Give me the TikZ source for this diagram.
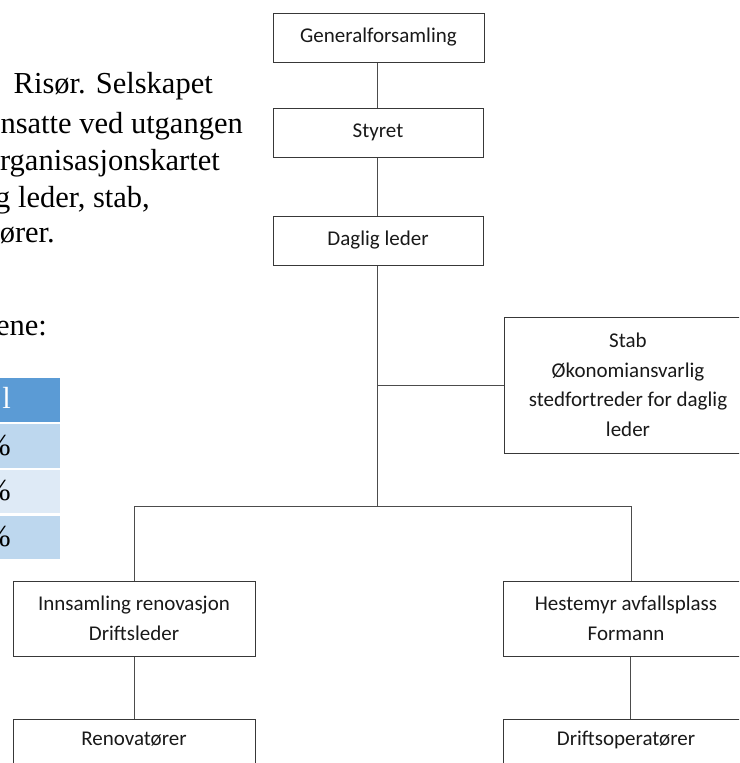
\documentclass[tikz,border=0pt]{standalone}
\usepackage{fontspec}
\setmainfont{Liberation Serif}
\newfontfamily\carlito{Carlito}
\usetikzlibrary{calc}
\definecolor{hdrblue}{HTML}{5B9BD5}
\definecolor{rowmid}{HTML}{BDD7EE}
\definecolor{rowlight}{HTML}{DEEAF6}
\tikzset{
  orgbox/.style={draw=black!78, line width=1pt, inner sep=0pt, align=center,
    font=\carlito\fontsize{21}{29.5}\selectfont, text=black!90},
  conn/.style={draw=black!70, line width=0.9pt},
  bodytext/.style={inner sep=0pt, font=\fontsize{30.5}{37}\selectfont, text=black},
}
\begin{document}
\begin{tikzpicture}[x=1pt,y=-1pt]
\useasboundingbox (0,0) rectangle (739,763);
\clip (0,0) rectangle (739,763);
% left background text (cut off, as in the reference)
\node[bodytext, anchor=base east] (t1) at (213,93) {Risør. Selskapet};
\node[bodytext, anchor=base east] (t2) at (243,133) {nsatte ved utgangen};
\node[bodytext, anchor=base east] (t3) at (220,170) {rganisasjonskartet};
\node[bodytext, anchor=base east] (t4) at (150,207) {g leder, stab,};
\node[bodytext, anchor=base east] (t5) at (55,242) {ører.};
\node[bodytext, anchor=base east] (t6) at (47,335) {ene:};
% table fragment
\fill[hdrblue] (-5,378) rectangle (60,422);
\fill[rowmid] (-5,424) rectangle (60,468);
\fill[rowlight] (-5,470) rectangle (60,513);
\fill[rowmid] (-5,516) rectangle (60,559);
\node[bodytext, anchor=base east, text=white] (c1) at (11,408) {l};
\node[bodytext, anchor=base east] (c2) at (11,455) {\%};
\node[bodytext, anchor=base east] (c3) at (11,500) {\%};
\node[bodytext, anchor=base east] (c4) at (11,546) {\%};
% org chart boxes
\node[orgbox, minimum width=211pt, minimum height=49pt] (gen) at (378.5,37.5) {Generalforsamling};
\node[orgbox, minimum width=210pt, minimum height=49pt] (sty) at (378,132.5) {Styret};
\node[orgbox, minimum width=210pt, minimum height=49pt] (dag) at (378,240.5) {Daglig leder};
\node[orgbox, minimum width=248pt, minimum height=136pt] (stab) at (628,385)
  {Stab\\Økonomiansvarlig\\stedfortreder for daglig\\leder};
\node[orgbox, minimum width=242pt, minimum height=75pt] (inn) at (134,618.5)
  {Innsamling renovasjon\\Driftsleder};
\node[orgbox, minimum width=246pt, minimum height=75pt] (hes) at (626,618.5)
  {Hestemyr avfallsplass\\Formann};
\node[orgbox, minimum width=242pt, anchor=north, text height=26pt, text depth=45pt] (ren) at (134,719) {Renovatører};
\node[orgbox, minimum width=246pt, anchor=north, text height=26pt, text depth=45pt] (dri) at (626,719) {Driftsoperatører};
% connectors
\coordinate (axis) at ($(dag.south)+(-1,0)$);
\coordinate (junc) at ($(axis)+(0,241)$);
\coordinate (hesin) at ($(hes.north)+(5,0)$);
\coordinate (driin) at ($(dri.north)+(4,0)$);
\draw[conn] ($(gen.south)+(-1.5,0)$) -- ($(sty.north)+(-1,0)$);
\draw[conn] ($(sty.south)+(-1,0)$) -- ($(dag.north)+(-1,0)$);
\draw[conn] (axis) -- (junc);
\draw[conn] (axis |- stab.west) -- (stab.west);
\draw[conn] (inn.north) -- (inn.north |- junc) -- (hesin |- junc) -- (hesin);
\draw[conn] (inn.south) -- (ren.north);
\draw[conn] (driin |- hes.south) -- (driin);
\end{tikzpicture}
\end{document}
